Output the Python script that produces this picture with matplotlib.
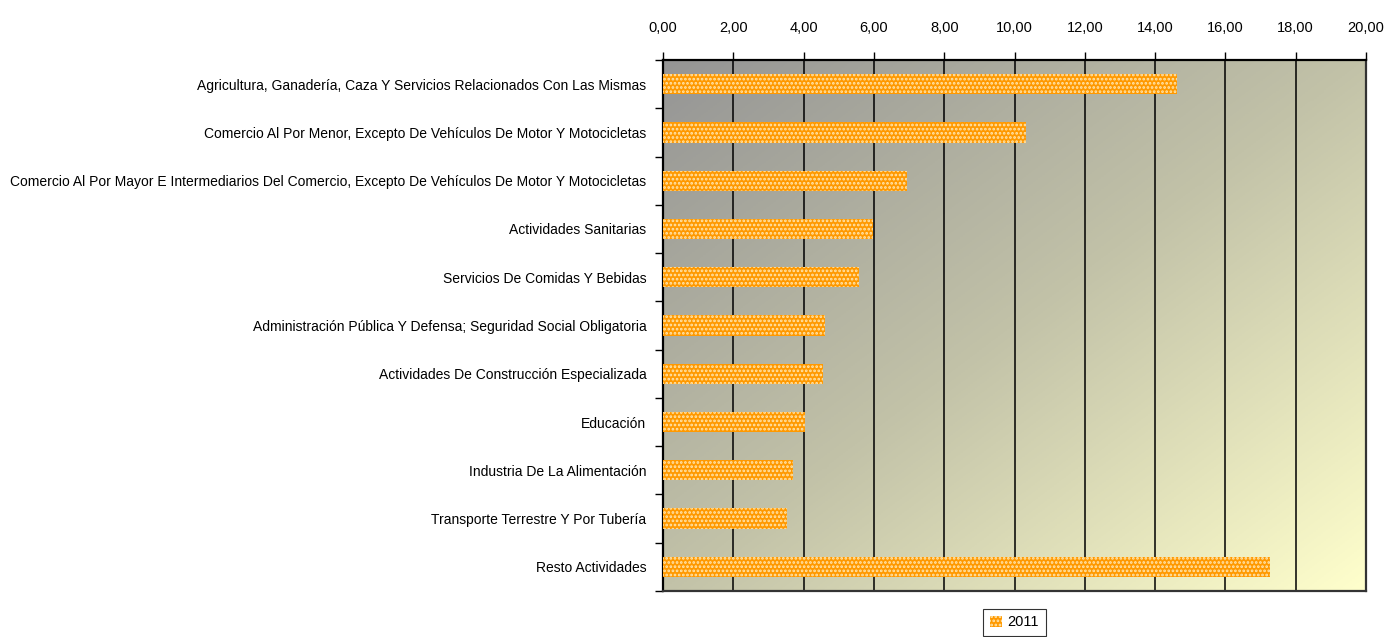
import numpy as np
import matplotlib
matplotlib.use("Agg")
import matplotlib.pyplot as plt
from matplotlib.colors import LinearSegmentedColormap
from matplotlib.ticker import FuncFormatter, MultipleLocator

categories = [
    "Agricultura, Ganadería, Caza Y Servicios Relacionados Con Las Mismas",
    "Comercio Al Por Menor, Excepto De Vehículos De Motor Y Motocicletas",
    "Comercio Al Por Mayor E Intermediarios Del Comercio, Excepto De Vehículos De Motor Y Motocicletas",
    "Actividades Sanitarias",
    "Servicios De Comidas Y Bebidas",
    "Administración Pública Y Defensa; Seguridad Social Obligatoria",
    "Actividades De Construcción Especializada",
    "Educación",
    "Industria De La Alimentación",
    "Transporte Terrestre Y Por Tubería",
    "Resto Actividades",
]
values_2011 = [14.63, 10.34, 6.93, 5.98, 5.57, 4.62, 4.55, 4.05, 3.71, 3.52, 17.28]
series_name = "2011"

plt.rcParams['font.family'] = ['Liberation Sans', 'DejaVu Sans']
plt.rcParams['hatch.linewidth'] = 1.3

fig = plt.figure(figsize=(13.86, 6.37), dpi=100)
ax = fig.add_axes([663 / 1386, 1 - 591 / 637, 703 / 1386, 531 / 637])

# diagonal gradient background: grey top-left -> pale yellow bottom-right
cmap = LinearSegmentedColormap.from_list("bg", ["#959595", "#c2c2a8", "#ffffcc"])
gx, gy = np.meshgrid(np.linspace(0, 1, 300), np.linspace(0, 1, 300))
grad = (gx + gy) / 2
ax.imshow(grad, cmap=cmap, extent=[0, 1, 0, 1], origin="upper",
          transform=ax.transAxes, aspect="auto", zorder=0)

y = np.arange(len(categories))
ax.barh(y, values_2011, height=0.42, color="#ff9900", edgecolor="#ffe6b0",
        linewidth=0, hatch="....", zorder=3, label=series_name)

ax.set_xlim(0, 20)
ax.set_ylim(len(categories) - 0.5, -0.5)
ax.xaxis.set_major_locator(MultipleLocator(2))
ax.xaxis.set_major_formatter(FuncFormatter(lambda v, p: f"{v:.2f}".replace(".", ",")))
ax.xaxis.tick_top()
ax.grid(axis="x", color="black", linewidth=1.1, zorder=1)

ax.set_yticks(y)
ax.set_yticklabels(categories)
ax.set_yticks(np.arange(len(categories) + 1) - 0.5, minor=True)
ax.tick_params(axis="y", which="major", length=0, pad=12, labelsize=10)
ax.tick_params(axis="y", which="minor", length=6, width=1, direction="out")
ax.tick_params(axis="x", length=6, width=1, direction="out", pad=12, labelsize=10.5)

for side in ["left", "top"]:
    ax.spines[side].set_linewidth(1.6)
    ax.spines[side].set_color("black")
for side in ["right", "bottom"]:
    ax.spines[side].set_linewidth(1.6)
    ax.spines[side].set_color("#333333")

leg = ax.legend(loc="upper center", bbox_to_anchor=(0.5, -0.02), fontsize=10.5,
                frameon=True, fancybox=False, edgecolor="black", handlelength=0.8,
                handleheight=0.8, handletextpad=0.4, borderpad=0.45)
leg.get_frame().set_linewidth(0.8)

fig.savefig("out.png", dpi=100)
